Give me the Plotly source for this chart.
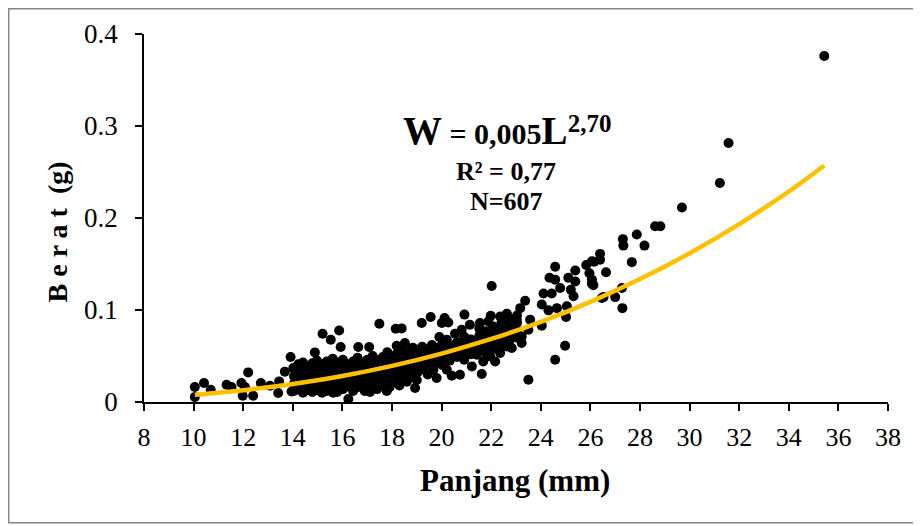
import plotly.graph_objects as go

# ---- data ----
# sparse / outlying points (Panjang mm, Berat g)
sparse_x = [35.43, 31.57, 31.22, 29.69, 28.61, 28.82, 27.87, 28.18, 27.31, 27.33,
            27.67, 26.39, 26.15, 26.39, 26.63, 26.06, 26.12, 26.53, 27.00, 27.27,
            27.29, 26.06, 25.83, 24.58, 24.35, 24.58, 25.39, 25.11, 25.39, 25.96,
            26.06, 24.78, 25.21, 24.11, 24.44, 25.32, 23.37, 24.04, 24.31, 24.65,
            25.05, 26.46, 25.02, 23.17, 22.63, 23.03, 23.57, 23.50, 24.04, 22.43,
            22.90, 23.23, 22.63, 22.83, 23.23, 24.98, 24.58, 23.50, 22.02, 19.56,
            19.20, 20.12, 20.01, 20.27, 20.92, 21.98, 22.36, 22.63, 21.14, 20.81,
            20.54, 21.55, 21.89, 19.91, 20.21, 20.61, 21.14, 21.68, 22.16, 18.52,
            19.00, 19.67, 20.21, 20.95, 21.42, 21.96, 22.36, 21.68, 22.16, 22.63,
            18.46, 18.86, 19.26, 18.73, 19.13, 19.67, 20.21, 19.80, 20.41, 20.74,
            21.22, 21.62, 18.93, 18.39, 17.49, 18.15, 15.87, 15.20, 15.53, 15.93,
            16.64, 17.08, 18.19, 14.89, 16.24, 17.79, 17.11, 15.63, 15.10, 14.56,
            13.91, 12.20, 10.05, 10.42, 10.69, 10.05, 11.33, 11.53, 11.93, 12.07,
            11.98, 12.40, 12.71, 13.08, 13.45, 13.41, 13.95, 13.68, 14.02, 14.36]
sparse_y = [0.376, 0.2815, 0.238, 0.2115, 0.191, 0.191, 0.182, 0.170, 0.177, 0.170,
            0.152, 0.161, 0.1525, 0.1547, 0.141, 0.133, 0.127, 0.114, 0.114, 0.124,
            0.102, 0.153, 0.149, 0.147, 0.135, 0.133, 0.143, 0.135, 0.131, 0.140,
            0.1286, 0.124, 0.122, 0.118, 0.118, 0.115, 0.110, 0.106, 0.0996, 0.102,
            0.104, 0.113, 0.0924, 0.102, 0.095, 0.0895, 0.0895, 0.0786, 0.083, 0.082,
            0.0768, 0.0713, 0.0677, 0.0587, 0.0641, 0.0612, 0.046, 0.0242, 0.126, 0.0924,
            0.0859, 0.0913, 0.0859, 0.0865, 0.095, 0.0938, 0.093, 0.096, 0.084, 0.0786,
            0.0742, 0.0859, 0.0876, 0.0707, 0.0677, 0.0641, 0.0677, 0.0696, 0.0732, 0.0641,
            0.0568, 0.0514, 0.0496, 0.0514, 0.0514, 0.0496, 0.0533, 0.0441, 0.0441, 0.0604,
            0.042, 0.042, 0.042, 0.035, 0.035, 0.035, 0.035, 0.026, 0.0286, 0.0297,
            0.0387, 0.0304, 0.0152, 0.080, 0.0851, 0.0797, 0.0778, 0.0742, 0.0677, 0.0598,
            0.0598, 0.0598, 0.0612, 0.0539, 0.0033, 0.012, 0.011, 0.010, 0.012, 0.013,
            0.0489, 0.0322, 0.0163, 0.0207, 0.0134, 0.0054, 0.0188, 0.0163, 0.0207, 0.0163,
            0.0068, 0.0068, 0.0207, 0.0177, 0.0224, 0.0098, 0.0115, 0.033, 0.037, 0.040]

# dense cloud of points (14-23 mm)
dense_x = [14.05, 14.05, 14.05, 14.05,
           14.22, 14.22, 14.22, 14.22,
           14.41, 14.41, 14.41, 14.41, 14.41,
           14.58, 14.58, 14.58, 14.58,
           14.79, 14.79, 14.79, 14.79, 14.79,
           14.97, 14.97, 14.97, 14.97, 14.97,
           15.18, 15.18, 15.18, 15.18, 15.18,
           15.37, 15.37, 15.37, 15.37, 15.37,
           15.61, 15.61, 15.61, 15.61, 15.61,
           15.79, 15.79, 15.79, 15.79, 15.79,
           16.02, 16.02, 16.02, 16.02, 16.02,
           16.19, 16.19, 16.19, 16.19,
           16.43, 16.43, 16.43, 16.43, 16.43,
           16.61, 16.61, 16.61, 16.61, 16.61,
           16.82, 16.82, 16.82, 16.82,
           17.01, 17.01, 17.01, 17.01, 17.01,
           17.22, 17.22, 17.22, 17.22, 17.22,
           17.39, 17.39, 17.39, 17.39,
           17.63, 17.63, 17.63, 17.63, 17.63,
           17.81, 17.81, 17.81, 17.81, 17.81,
           18.04, 18.04, 18.04, 18.04,
           18.21, 18.21, 18.21, 18.21, 18.21,
           18.43, 18.43, 18.43, 18.43, 18.43,
           18.62, 18.62, 18.62, 18.62,
           18.84, 18.84, 18.84, 18.84, 18.84,
           19.03, 19.03, 19.03, 19.03,
           19.22, 19.22, 19.22, 19.22,
           19.44, 19.44, 19.44, 19.44,
           19.61, 19.61, 19.61, 19.61,
           19.83, 19.83, 19.83,
           20.04, 20.04, 20.04, 20.04,
           20.33, 20.33, 20.33,
           20.62, 20.62, 20.62,
           20.91, 20.91, 20.91, 20.91,
           21.18, 21.18, 21.18,
           21.52, 21.52, 21.52, 21.52,
           21.79, 21.79, 21.79, 21.79,
           22.08, 22.08, 22.08, 22.08,
           22.41, 22.41, 22.41, 22.41,
           22.72, 22.72, 22.72, 22.72,
           23.04, 23.04, 23.04, 23.04,
           17.90, 18.30, 18.60, 19.00, 16.90, 17.40]
dense_y = [0.012, 0.020, 0.028, 0.036,
           0.016, 0.024, 0.032, 0.041,
           0.010, 0.019, 0.027, 0.035, 0.043,
           0.014, 0.022, 0.030, 0.038,
           0.011, 0.018, 0.026, 0.034, 0.042,
           0.013, 0.021, 0.029, 0.037, 0.045,
           0.010, 0.017, 0.025, 0.033, 0.041,
           0.012, 0.020, 0.028, 0.036, 0.044,
           0.015, 0.023, 0.031, 0.039, 0.047,
           0.011, 0.019, 0.027, 0.035, 0.043,
           0.014, 0.022, 0.030, 0.038, 0.046,
           0.017, 0.025, 0.033, 0.041,
           0.012, 0.020, 0.028, 0.036, 0.044,
           0.016, 0.024, 0.032, 0.040, 0.048,
           0.019, 0.027, 0.035, 0.043,
           0.014, 0.022, 0.030, 0.038, 0.046,
           0.018, 0.026, 0.034, 0.042, 0.050,
           0.021, 0.029, 0.037, 0.045,
           0.017, 0.025, 0.033, 0.041, 0.049,
           0.022, 0.030, 0.038, 0.046, 0.054,
           0.026, 0.034, 0.042, 0.050,
           0.021, 0.029, 0.037, 0.045, 0.053,
           0.025, 0.033, 0.041, 0.049, 0.057,
           0.030, 0.038, 0.046, 0.054,
           0.027, 0.035, 0.043, 0.051, 0.059,
           0.032, 0.040, 0.048, 0.056,
           0.036, 0.044, 0.052, 0.060,
           0.030, 0.041, 0.049, 0.057,
           0.038, 0.046, 0.054, 0.062,
           0.043, 0.051, 0.059,
           0.040, 0.048, 0.056, 0.064,
           0.045, 0.053, 0.061,
           0.049, 0.057, 0.065,
           0.046, 0.055, 0.063, 0.071,
           0.052, 0.060, 0.068,
           0.056, 0.064, 0.072, 0.080,
           0.053, 0.061, 0.069, 0.077,
           0.058, 0.066, 0.074, 0.082,
           0.062, 0.070, 0.078, 0.086,
           0.066, 0.074, 0.082, 0.090,
           0.070, 0.078, 0.086, 0.094,
           0.016, 0.018, 0.022, 0.024, 0.012, 0.014]

# fitted power curve
curve_x = [10.05, 12, 14, 16, 18, 20, 22, 24, 26, 28, 30, 32, 34, 35.43]
curve_y = [0.0078, 0.0128, 0.0196, 0.0283, 0.0393, 0.0526, 0.0685, 0.0872,
           0.1089, 0.1336, 0.1617, 0.1934, 0.2288, 0.257]

x_ticks = [8, 10, 12, 14, 16, 18, 20, 22, 24, 26, 28, 30, 32, 34, 36, 38]
y_ticks = [0, 0.1, 0.2, 0.3, 0.4]
y_tick_text = ["0", "0.1", "0.2", "0.3", "0.4"]

FONT = "Liberation Serif, Times New Roman, serif"

# page geometry (the page body has an 8 px margin)
PLOT_L, PLOT_R, PLOT_T, PLOT_B = 144.2, 887.6, 34.3, 402.3


def px_x(px):
    return (px - PLOT_L) / (PLOT_R - PLOT_L)


def px_y(py):
    return (PLOT_B - py) / (PLOT_B - PLOT_T)


fig = go.Figure()
fig.add_trace(go.Scatter(x=dense_x + sparse_x, y=dense_y + sparse_y, mode="markers",
                         marker=dict(size=10, color="black", line=dict(width=0)),
                         showlegend=False, hoverinfo="x+y"))
fig.add_trace(go.Scatter(x=curve_x, y=curve_y, mode="lines", line_shape="spline",
                         line=dict(color="#FFC000", width=4.5), showlegend=False))

fig.update_layout(
    width=913, height=518,
    margin=dict(l=PLOT_L - 8, r=921 - PLOT_R, t=PLOT_T - 8, b=526 - PLOT_B, pad=0),
    paper_bgcolor="white", plot_bgcolor="white",
    font=dict(family=FONT, color="black"),
    xaxis=dict(range=[8, 38], tickvals=x_ticks, ticktext=[str(v) for v in x_ticks],
               showgrid=False, zeroline=False, showline=True, linecolor="black",
               linewidth=1.5, ticks="outside", ticklen=7, tickwidth=1.5,
               tickcolor="black", tickfont=dict(size=26, family=FONT),
               ticklabelstandoff=4),
    yaxis=dict(range=[0, 0.4], tickvals=y_ticks, ticktext=y_tick_text,
               showgrid=False, zeroline=False, showline=True, linecolor="black",
               linewidth=1.5, ticks="outside", ticklen=7, tickwidth=1.5,
               tickcolor="black", tickfont=dict(size=27, family=FONT),
               ticklabelstandoff=12),
)

# outer chart border
fig.add_shape(type="rect", xref="paper", yref="paper",
              x0=px_x(9), x1=px_x(916), y0=px_y(523), y1=px_y(9),
              line=dict(color="#878787", width=1.5))

# equation block (exponent raised with baseline-shift)
fig.add_annotation(x=px_x(401), y=px_y(131), xref="paper", yref="paper",
                   xanchor="left", yanchor="middle", showarrow=False,
                   text="<b><span style='font-size:39px'>W</span> = 0,005"
                        "<span style='font-size:39px'>L</span>"
                        "<span style='font-size:25px;baseline-shift:12px'>2,70</span></b>",
                   font=dict(size=30, family=FONT, color="black"))
fig.add_annotation(x=px_x(506), y=px_y(172), xref="paper", yref="paper",
                   xanchor="center", yanchor="middle", showarrow=False,
                   text="<b>R² = 0,77</b>", font=dict(size=26, family=FONT, color="black"))
fig.add_annotation(x=px_x(506), y=px_y(202), xref="paper", yref="paper",
                   xanchor="center", yanchor="middle", showarrow=False,
                   text="<b>N=607</b>", font=dict(size=26, family=FONT, color="black"))

# axis titles
fig.add_annotation(x=px_x(58), y=px_y(232), xref="paper", yref="paper",
                   xanchor="center", yanchor="middle", textangle=-90, showarrow=False,
                   text="<b>B e r a t  (g)</b>", font=dict(size=28, family=FONT, color="black"))
fig.add_annotation(x=px_x(515), y=px_y(481), xref="paper", yref="paper",
                   xanchor="center", yanchor="middle", showarrow=False,
                   text="<b>Panjang (mm)</b>", font=dict(size=31, family=FONT, color="black"))

fig.write_html("out.html")
